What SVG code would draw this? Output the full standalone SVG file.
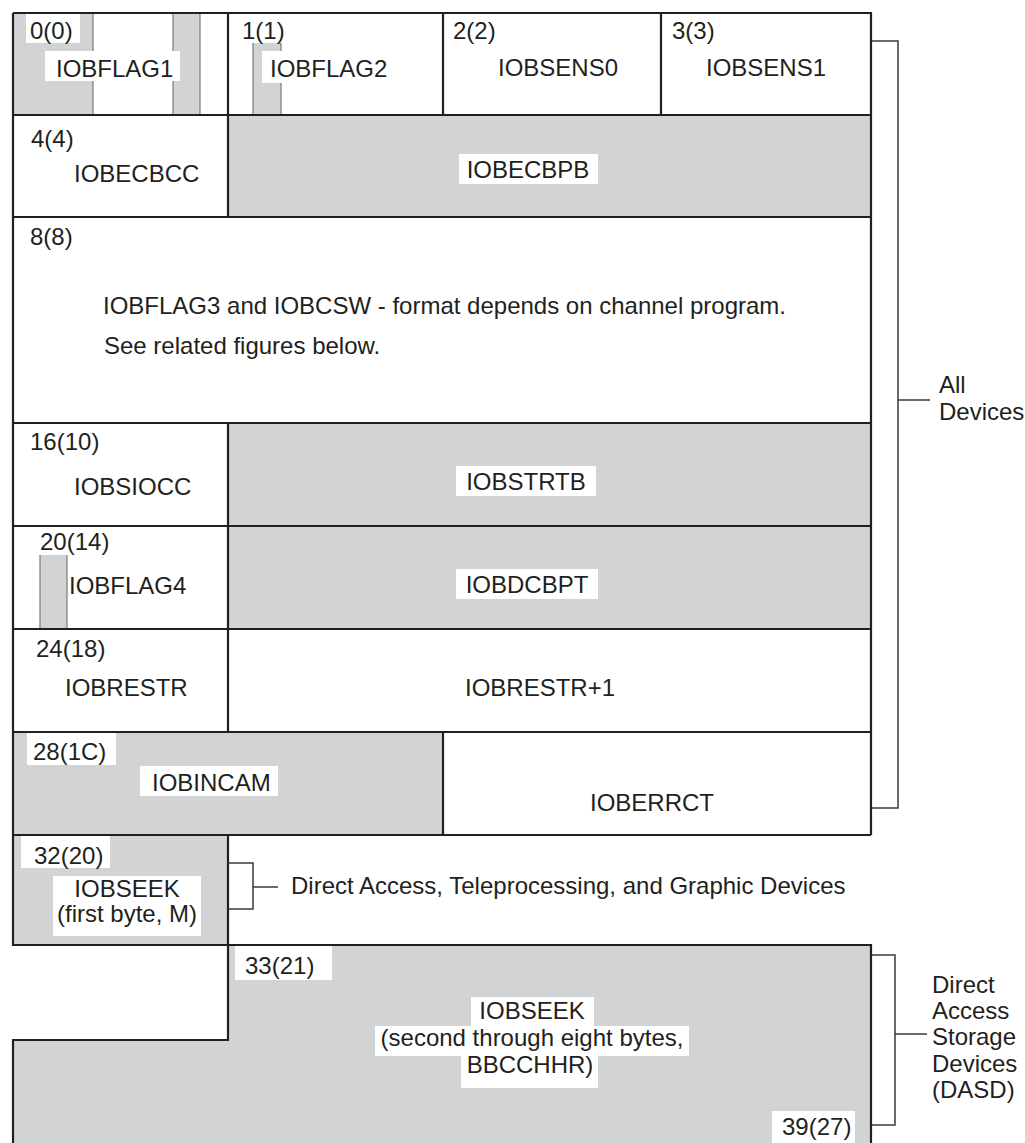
<svg xmlns="http://www.w3.org/2000/svg" width="1025" height="1143" viewBox="0 0 1025 1143">
<style>
text{font-family:"Liberation Sans",Arial,sans-serif;font-size:24px;fill:#231f20}
.g{fill:#d1d3d4}
.w{fill:#fff}
.ln{stroke:#231f20;stroke-width:2.2;fill:none}
.thin{stroke:#7a7a7a;stroke-width:1.2;fill:none}
.br{stroke:#3a3a3a;stroke-width:1.5;fill:none}
.m{text-anchor:middle}
</style>
<rect width="1025" height="1143" fill="#fff"/>

<g id="iobflag1">
<rect class="g" x="13" y="13" width="80" height="102"/>
<rect class="g" x="173" y="13" width="27" height="102"/>
<path class="thin" d="M93 13V115M173 13V115M200 13V115"/>
<rect class="w" x="26" y="13" width="54" height="30"/>
<text x="30" y="39">0(0)</text>
<rect class="w" x="45" y="51" width="135" height="30"/>
<text x="56" y="77">IOBFLAG1</text>
</g>
<g id="iobflag2">
<rect class="g" x="253" y="43" width="28" height="72"/>
<path class="thin" d="M253 43V115M281 43V115"/>
<rect class="w" x="262" y="51" width="128" height="32"/>
<text x="242" y="39">1(1)</text>
<text x="270" y="77">IOBFLAG2</text>
</g>
<g id="iobsens0">
<text x="453" y="39">2(2)</text>
<text x="498" y="76">IOBSENS0</text>
</g>
<g id="iobsens1">
<text x="672" y="39">3(3)</text>
<text x="706" y="76">IOBSENS1</text>
</g>
<g id="iobecbcc">
<text x="31" y="147">4(4)</text>
<text x="74" y="182">IOBECBCC</text>
</g>
<g id="iobecbpb">
<rect class="g" x="228" y="115" width="643" height="102"/>
<rect class="w" x="459" y="154" width="139" height="30"/>
<text class="m" x="528" y="178">IOBECBPB</text>
</g>
<g id="iobflag3">
<text x="30" y="245">8(8)</text>
<text x="103" y="314">IOBFLAG3 and IOBCSW - format depends on channel program.</text>
<text x="104" y="354">See related figures below.</text>
</g>
<g id="iobsiocc">
<text x="30" y="450">16(10)</text>
<text x="74" y="495">IOBSIOCC</text>
</g>
<g id="iobstrtb">
<rect class="g" x="228" y="423" width="643" height="103"/>
<rect class="w" x="456" y="466" width="140" height="30"/>
<text class="m" x="526" y="490">IOBSTRTB</text>
</g>
<g id="iobflag4">
<rect class="g" x="40" y="555" width="27" height="73"/>
<path class="thin" d="M40 555V629M67 555V629"/>
<text x="40" y="550">20(14)</text>
<text x="69" y="594">IOBFLAG4</text>
</g>
<g id="iobdcbpt">
<rect class="g" x="228" y="526" width="643" height="103"/>
<rect class="w" x="456" y="569" width="142" height="30"/>
<text class="m" x="527" y="593">IOBDCBPT</text>
</g>
<g id="iobrestr">
<text x="36" y="657">24(18)</text>
<text x="65" y="696">IOBRESTR</text>
</g>
<g id="iobrestr1">
<text class="m" x="540" y="696">IOBRESTR+1</text>
</g>
<g id="iobincam">
<rect class="g" x="13" y="732" width="430" height="103"/>
<rect class="w" x="27" y="733" width="89" height="32"/>
<text x="33" y="760">28(1C)</text>
<rect class="w" x="140" y="766" width="138" height="30"/>
<text x="152" y="791">IOBINCAM</text>
</g>
<g id="ioberrct">
<text x="590" y="811">IOBERRCT</text>
</g>
<g id="iobseek1">
<rect class="g" x="13" y="835" width="215" height="110"/>
<rect class="w" x="21" y="836" width="89" height="32"/>
<text x="34" y="864">32(20)</text>
<rect class="w" x="53" y="876" width="148" height="60"/>
<text class="m" x="127" y="897">IOBSEEK</text>
<text class="m" x="127" y="922">(first byte, M)</text>
</g>
<g id="iobseek2">
<path class="g" d="M228 945H871V1143H13V1040H228Z"/>
<rect class="w" x="235" y="946" width="97" height="34"/>
<text x="245" y="974">33(21)</text>
<rect class="w" x="471" y="997" width="123" height="30"/>
<rect class="w" x="375" y="1026" width="314" height="30"/>
<rect class="w" x="461" y="1055" width="137" height="33"/>
<text class="m" x="532" y="1019">IOBSEEK</text>
<text class="m" x="532" y="1046">(second through eight bytes,</text>
<text class="m" x="530" y="1073">BBCCHHR)</text>
<rect class="w" x="772" y="1111" width="83" height="32"/>
<text x="782" y="1135">39(27)</text>
</g>

<g id="grid">
<path class="ln" d="M13 13H871V835M13 13V945H228V835M13 115H871M13 217H871M13 423H871M13 526H871M13 629H871M13 732H871M13 835H871"/>
<path class="ln" d="M228 13V115M443 13V115M661 13V115M228 115V217M228 423V732M443 732V835"/>
<path class="ln" d="M228 945H871V1143M228 945V1040H13V1143"/>
</g>

<g id="connectors">
<path class="br" d="M872 41H898V808H872M898 400H930"/>
<path class="br" d="M228 863H253V909H228M253 887H278"/>
<path class="br" d="M871 955H895V1125H871M895 1034H927"/>
</g>
<g id="notes">
<text x="939" y="393">All</text>
<text x="939" y="420">Devices</text>
<text x="291" y="894">Direct Access, Teleprocessing, and Graphic Devices</text>
<text x="932" y="993">Direct</text>
<text x="932" y="1019">Access</text>
<text x="932" y="1045">Storage</text>
<text x="932" y="1072">Devices</text>
<text x="932" y="1098">(DASD)</text>
</g>
</svg>
